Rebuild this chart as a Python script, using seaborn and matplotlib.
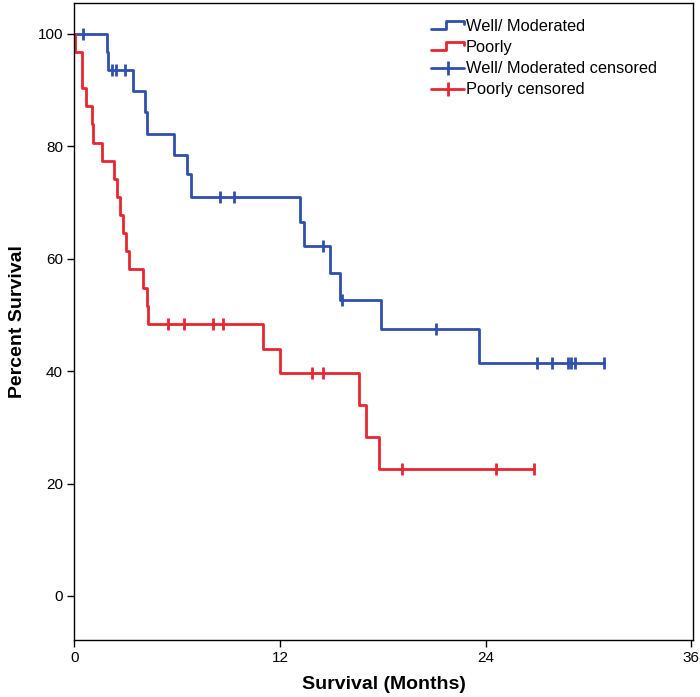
import seaborn as sns
import matplotlib.pyplot as plt
from matplotlib.lines import Line2D
from matplotlib.legend_handler import HandlerBase

# Kaplan-Meier step points (time in months, percent surviving after the step)
well_time = [0, 1.9, 1.95, 3.45, 4.15, 4.25, 5.8, 6.6, 6.8, 13.2, 13.4, 14.9, 15.5, 17.9, 23.6, 30.9]
well_surv = [100, 96.8, 93.5, 89.9, 86.1, 82.1, 78.5, 75.0, 71.0, 66.5, 62.3, 57.5, 52.7, 47.4, 41.5, 41.5]
well_cens_time = [0.5, 2.2, 2.45, 2.95, 8.5, 9.3, 14.5, 15.6, 21.1, 27.0, 27.9, 28.8, 29.0, 29.2, 30.9]
well_cens_surv = [100, 93.5, 93.5, 93.5, 71.0, 71.0, 62.3, 52.7, 47.4, 41.5, 41.5, 41.5, 41.5, 41.5, 41.5]

poor_time = [0, 0.05, 0.45, 0.48, 0.7, 1.05, 1.1, 1.6, 2.35, 2.5, 2.7, 2.85, 3.05, 3.2, 4.0, 4.25, 4.3,
             11.0, 12.0, 16.6, 17.0, 17.8, 26.8]
poor_surv = [100, 96.8, 93.5, 90.3, 87.1, 83.9, 80.6, 77.4, 74.2, 71.0, 67.7, 64.5, 61.3, 58.1, 54.8, 51.6, 48.4,
             44.0, 39.6, 33.9, 28.3, 22.6, 22.6]
poor_cens_time = [5.5, 6.4, 8.1, 8.7, 13.9, 14.5, 19.1, 24.6, 26.8]
poor_cens_surv = [48.4, 48.4, 48.4, 48.4, 39.6, 39.6, 22.6, 22.6, 22.6]

blue = '#2f4fad'
red = '#e8262f'

sns.set_style('white')
plt.rcParams['font.family'] = ['Liberation Sans', 'DejaVu Sans']
plt.rcParams['text.color'] = 'black'
plt.rcParams['axes.labelcolor'] = 'black'
plt.rcParams['xtick.color'] = 'black'
plt.rcParams['ytick.color'] = 'black'

fig = plt.figure(figsize=(7, 6.97), dpi=100)
ax = fig.add_axes([0.106, 0.082, 0.884, 0.914])

sns.lineplot(x=well_time, y=well_surv, drawstyle='steps-post', color=blue, lw=2,
             estimator=None, sort=False, ax=ax)
sns.lineplot(x=poor_time, y=poor_surv, drawstyle='steps-post', color=red, lw=2,
             estimator=None, sort=False, ax=ax)
sns.scatterplot(x=well_cens_time, y=well_cens_surv, marker='|', s=70, linewidth=2,
                color=blue, ax=ax, zorder=3)
sns.scatterplot(x=poor_cens_time, y=poor_cens_surv, marker='|', s=70, linewidth=2,
                color=red, ax=ax, zorder=3)

ax.set_xlim(0, 36.1)
ax.set_ylim(-7.8, 105.5)
ax.set_xticks([0, 12, 24, 36])
ax.set_yticks([0, 20, 40, 60, 80, 100])
ax.tick_params(axis='both', direction='out', length=5, width=1, labelsize=11,
               bottom=True, left=True, pad=3)
for s in ax.spines.values():
    s.set_color('black')
    s.set_linewidth(1)
ax.set_xlabel('Survival (Months)', fontsize=14, fontweight='bold', labelpad=8)
ax.set_ylabel('Percent Survival', fontsize=14, fontweight='bold', labelpad=8)


class StepHandler(HandlerBase):
    def create_artists(self, legend, orig, xd, yd, w, h, fontsize, trans):
        c = orig.get_color()
        xs = [xd, xd + w * 0.45, xd + w * 0.45, xd + w, xd + w]
        ys = [yd + h * 0.2, yd + h * 0.2, yd + h * 0.85, yd + h * 0.85, yd + h * 0.6]
        ln = Line2D(xs, ys, color=c, lw=2, transform=trans)
        return [ln]


h1 = Line2D([], [], color=blue)
h2 = Line2D([], [], color=red)
h3 = Line2D([], [], color=blue, lw=2, marker='|', markersize=10, mew=2)
h4 = Line2D([], [], color=red, lw=2, marker='|', markersize=10, mew=2)
ax.legend([h1, h2, h3, h4],
          ['Well/ Moderated', 'Poorly', 'Well/ Moderated censored', 'Poorly censored'],
          handler_map={h1: StepHandler(), h2: StepHandler()},
          loc='upper left', bbox_to_anchor=(0.553, 0.998), frameon=False, fontsize=11.8,
          handlelength=2.0, handletextpad=0.1, labelspacing=0.38)

plt.savefig('out.png', dpi=100)
